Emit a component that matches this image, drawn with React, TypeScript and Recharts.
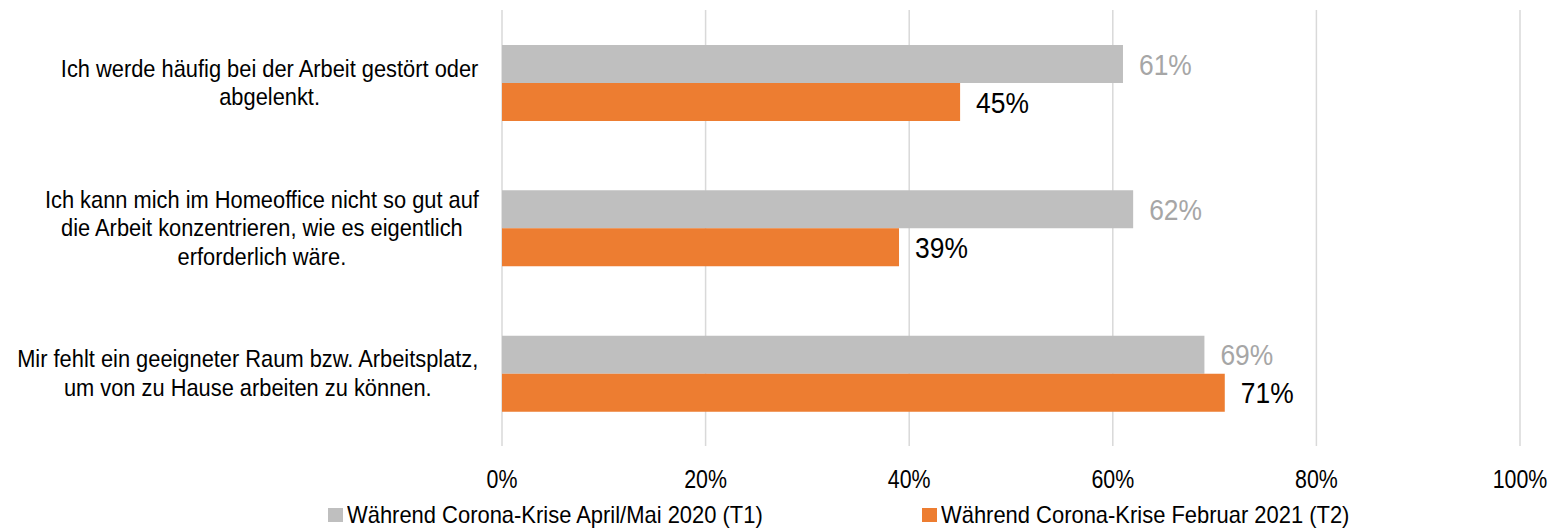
import { BarChart, Bar, XAxis, YAxis, CartesianGrid, Legend, LabelList } from 'recharts';

const categories = [
  'Ich werde häufig bei der Arbeit gestört oder\nabgelenkt.',
  'Ich kann mich im Homeoffice nicht so gut auf\ndie Arbeit konzentrieren, wie es eigentlich\nerforderlich wäre.',
  'Mir fehlt ein geeigneter Raum bzw. Arbeitsplatz,\num von zu Hause arbeiten zu können.',
];
const seriesT1 = [61, 62, 69];
const seriesT2 = [45, 39, 71];
const xTicks = [0, 20, 40, 60, 80, 100];
const seriesNames = [
  'Während Corona-Krise April/Mai 2020 (T1)',
  'Während Corona-Krise Februar 2021 (T2)',
];

// no narrow font installed, so the condensed look is faked with a horizontal scale
const FONT = "'Liberation Sans', Arial, sans-serif";
const GRAY = '#bfbfbf';
const ORANGE = '#ed7d31';

const data = categories.map((name, i) => ({ name, t1: seriesT1[i], t2: seriesT2[i] }));

let ctx: CanvasRenderingContext2D | null = null;
function measure(text: string, size: number) {
  if (!ctx) ctx = document.createElement('canvas').getContext('2d');
  if (!ctx) return text.length * size * 0.5;
  ctx.font = `${size}px "Liberation Sans"`;
  return ctx.measureText(text).width;
}

// category labels: each block centered on itself, widest line right-aligned
function CategoryTick(props: any) {
  const { y, payload } = props;
  const size = 24;
  const sx = 0.91;
  const lineH = 28.5;
  const lines: string[] = String(payload.value).split('\n');
  const maxW = Math.max(...lines.map((l) => measure(l, size))) * sx;
  const cx = 479 - maxW / 2;
  const startY = -((lines.length - 1) * lineH) / 2;
  return (
    <g transform={`translate(${cx},${y}) scale(${sx},1)`}>
      <text textAnchor="middle" fontSize={size} fontFamily={FONT} fill="#000">
        {lines.map((l, i) => (
          <tspan key={i} x={0} y={startY + i * lineH} dy="0.35em">
            {l}
          </tspan>
        ))}
      </text>
    </g>
  );
}

function PercentTick(props: any) {
  const { x, y, payload } = props;
  return (
    <g transform={`translate(${x},${y}) scale(0.855,1)`}>
      <text textAnchor="middle" dy="0.71em" fontSize={25} fontFamily={FONT} fill="#000">
        {`${payload.value}%`}
      </text>
    </g>
  );
}

function makeValueLabel(color: string) {
  return (props: any) => {
    const { x, y, width, height, value } = props;
    return (
      <g transform={`translate(${x + width + 16},${y + height / 2}) scale(0.88,1)`}>
        <text dy="0.36em" fontSize={30} fontFamily={FONT} fill={color}>
          {`${value}%`}
        </text>
      </g>
    );
  };
}

function LegendContent() {
  const colors = [GRAY, ORANGE];
  return (
    <div style={{ display: 'flex', fontFamily: FONT, fontSize: 24, color: '#000' }}>
      {seriesNames.map((n, i) => (
        <div key={n} style={{ display: 'flex', alignItems: 'center', width: i === 0 ? 594 : 'auto' }}>
          <div style={{ width: 15, height: 14, background: colors[i], marginRight: 4 }} />
          <span style={{ display: 'inline-block', transform: 'scaleX(0.914)', transformOrigin: 'left center', whiteSpace: 'nowrap' }}>
            {n}
          </span>
        </div>
      ))}
    </div>
  );
}

export default function App() {
  return (
    <div style={{ position: 'absolute', left: 0, top: 0, width: 1553, height: 530, background: '#fff' }}>
      <BarChart
        width={1553}
        height={530}
        data={data}
        layout="vertical"
        margin={{ top: 10, right: 33, bottom: 44, left: 0 }}
        barSize={38}
        barGap={0}
      >
        <CartesianGrid horizontal={false} stroke="#d9d9d9" strokeWidth={1.5} />
        <XAxis
          type="number"
          domain={[0, 100]}
          ticks={xTicks}
          axisLine={false}
          tickLine={false}
          tickSize={0}
          tickMargin={24}
          height={40}
          interval={0}
          tick={<PercentTick />}
        />
        <YAxis
          type="category"
          dataKey="name"
          width={502}
          axisLine={false}
          tickLine={false}
          tick={<CategoryTick />}
          interval={0}
        />
        <Legend
          layout="horizontal"
          verticalAlign="middle"
          align="center"
          content={<LegendContent />}
          wrapperStyle={{ top: 501, left: 328, width: 1100, height: 28 }}
        />
        <Bar dataKey="t1" name={seriesNames[0]} fill={GRAY} isAnimationActive={false}>
          <LabelList dataKey="t1" content={makeValueLabel('#a6a6a6')} />
        </Bar>
        <Bar dataKey="t2" name={seriesNames[1]} fill={ORANGE} isAnimationActive={false}>
          <LabelList dataKey="t2" content={makeValueLabel('#000')} />
        </Bar>
      </BarChart>
    </div>
  );
}
